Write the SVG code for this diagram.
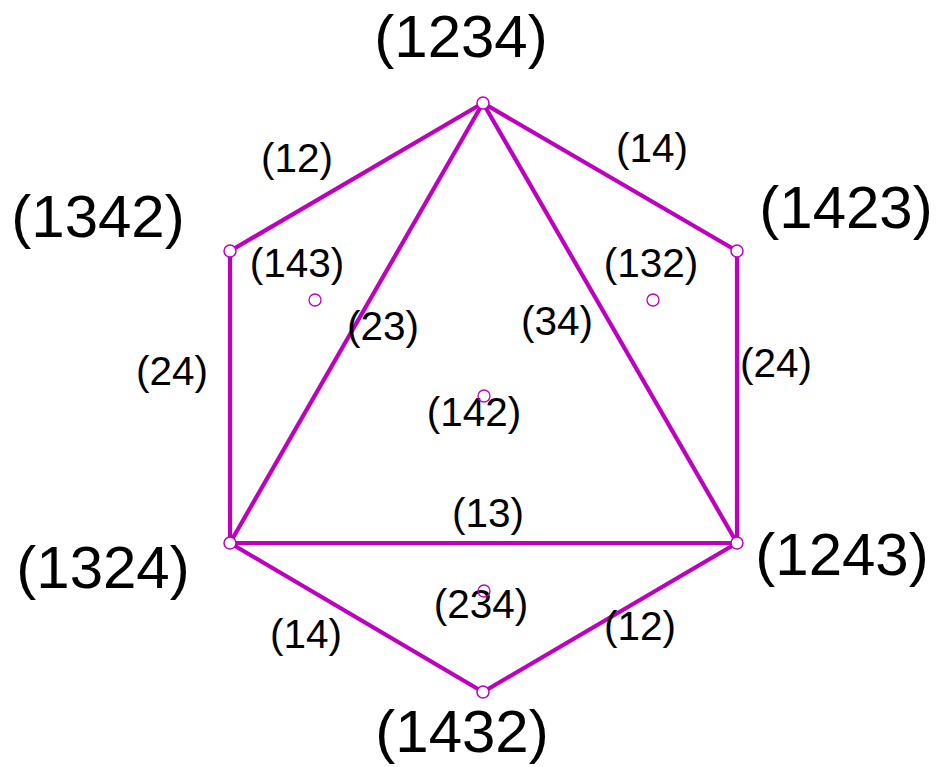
<svg xmlns="http://www.w3.org/2000/svg" width="938" height="767" viewBox="0 0 938 767">
<style>
.e{stroke:#bf00bf;stroke-width:4.2;fill:none;stroke-linecap:round}
.v{fill:#fff;stroke:#bf00bf;stroke-width:1.5}
.p{fill:none;stroke:#bf00bf;stroke-width:1.3}
.big{font-family:"Liberation Sans",Arial,sans-serif;font-size:60px;text-anchor:middle;fill:#000}
.sm{font-family:"Liberation Sans",Arial,sans-serif;font-size:40.5px;text-anchor:middle;fill:#000}
</style>
<rect width="938" height="767" fill="#fff"/>
<g id="connectors">
<line class="e" x1="483" y1="103" x2="230" y2="251"/>
<line class="e" x1="483" y1="103" x2="737" y2="251"/>
<line class="e" x1="230" y1="251" x2="230" y2="543"/>
<line class="e" x1="737" y1="251" x2="737" y2="543"/>
<line class="e" x1="230" y1="543" x2="483" y2="692"/>
<line class="e" x1="737" y1="543" x2="483" y2="692"/>
<line class="e" x1="483" y1="103" x2="230" y2="543"/>
<line class="e" x1="483" y1="103" x2="737" y2="543"/>
<line class="e" x1="230" y1="543" x2="737" y2="543"/>
<text class="sm" x="297" y="172">(12)</text>
<text class="sm" x="652" y="162">(14)</text>
<text class="sm" x="383" y="340">(23)</text>
<text class="sm" x="557" y="335">(34)</text>
<text class="sm" x="172" y="385">(24)</text>
<text class="sm" x="776" y="377">(24)</text>
<text class="sm" x="488" y="527">(13)</text>
<text class="sm" x="306" y="648">(14)</text>
<text class="sm" x="640" y="640">(12)</text>
</g>
<g id="n1234"><circle class="v" cx="483" cy="103" r="6"/><text class="big" x="461" y="57">(1234)</text></g>
<g id="n1342"><circle class="v" cx="230" cy="251" r="6"/><text class="big" x="98" y="237">(1342)</text></g>
<g id="n1423"><circle class="v" cx="737" cy="251" r="6"/><text class="big" x="846" y="228">(1423)</text></g>
<g id="n1324"><circle class="v" cx="230" cy="543" r="6"/><text class="big" x="103" y="588">(1324)</text></g>
<g id="n1243"><circle class="v" cx="737" cy="543" r="6"/><text class="big" x="842" y="575">(1243)</text></g>
<g id="n1432"><circle class="v" cx="483" cy="692" r="6"/><text class="big" x="462" y="752">(1432)</text></g>
<g id="n143"><text class="sm" x="297" y="277">(143)</text><circle class="p" cx="315" cy="300" r="6"/></g>
<g id="n132"><text class="sm" x="651" y="277">(132)</text><circle class="p" cx="653" cy="300" r="6"/></g>
<g id="n142"><text class="sm" x="474" y="426">(142)</text><circle class="p" cx="484" cy="396" r="6"/></g>
<g id="n234"><text class="sm" x="481" y="618">(234)</text><circle class="p" cx="484" cy="591" r="6"/></g>
</svg>
